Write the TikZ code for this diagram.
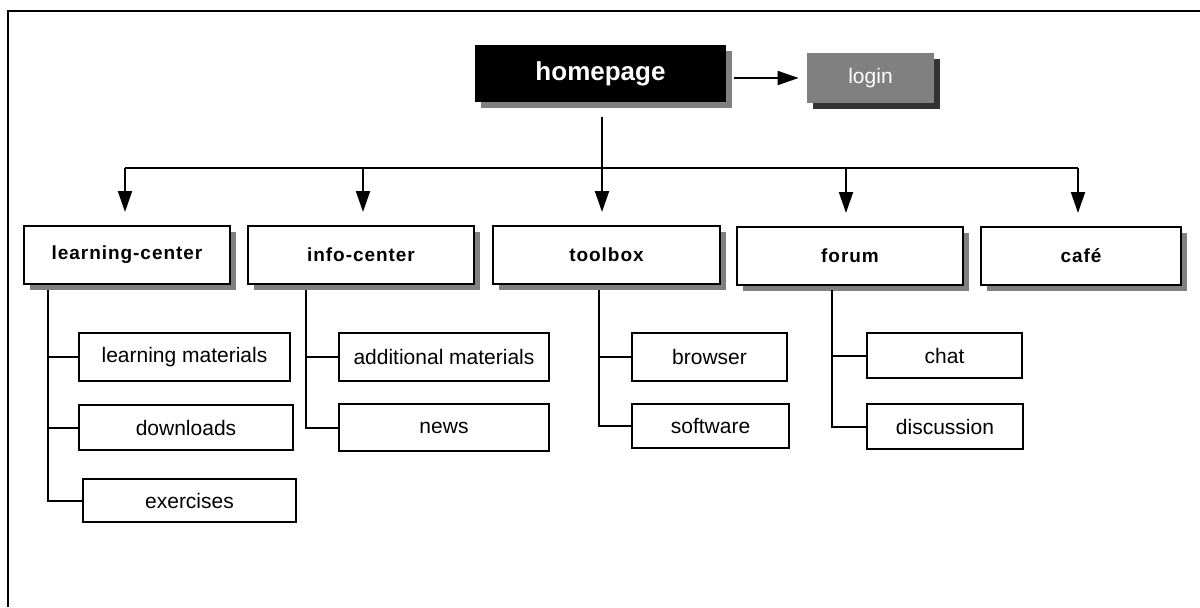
\documentclass[tikz,border=0pt]{standalone}
\usepackage{fontspec}
\setmainfont{Liberation Sans}
\usetikzlibrary{arrows.meta,shadows}
\definecolor{shadowgray}{RGB}{128,128,128}
\definecolor{darkshadow}{RGB}{51,51,51}
\begin{document}
\begin{tikzpicture}[x=0.5pt,y=-0.5pt,
  subbox/.style={draw,line width=1pt,fill=white,inner sep=0pt,font=\fontsize{10.5}{12}\selectfont},
  topbox/.style={draw,line width=1pt,fill=white,inner sep=0pt,minimum height=29pt,
     font=\fontsize{9.5}{11}\selectfont\bfseries\addfontfeature{LetterSpace=5},
     drop shadow={shadow xshift=3pt,shadow yshift=-3pt,fill=shadowgray,opacity=1}},
  arr/.style={line width=1pt,-{Triangle[length=10.5pt,width=7pt]}},
  conn/.style={line width=1pt}
]
\useasboundingbox (0,0) rectangle (1200,607);
% frame
\draw[line width=1pt] (8,607) -- (8,11) -- (1200,11);

% homepage and login
\node[fill=black,text=white,inner sep=0pt,minimum width=125.5pt,minimum height=28.5pt,
      font=\fontsize{13}{15}\selectfont\bfseries,
      drop shadow={shadow xshift=3pt,shadow yshift=-3pt,fill=shadowgray,opacity=1}]
      (hp) at (600.5,73.5) {homepage};
\node[fill=shadowgray,text=white,inner sep=0pt,minimum width=63.5pt,minimum height=25pt,
      font=\fontsize{10.5}{12}\selectfont,
      drop shadow={shadow xshift=3pt,shadow yshift=-3pt,fill=darkshadow,opacity=1}]
      (lg) at (870.5,78) {login};

% top level
\node[topbox,minimum width=103pt] (lc) at (127,255) {learning-center};
\node[topbox,minimum width=113pt] (ic) at (361,255) {info-center};
\node[topbox,minimum width=113.5pt] (tb) at (606.5,255) {toolbox};
\node[topbox,minimum width=113pt] (fo) at (850,256) {forum};
\node[topbox,minimum width=100pt] (ca) at (1081,256) {café};

% sub boxes
\node[subbox,minimum width=105.5pt,minimum height=24pt] (lm) at (184.5,357) {learning materials};
\node[subbox,minimum width=107pt,minimum height=22.5pt] (dl) at (186,427.5) {downloads};
\node[subbox,minimum width=106.5pt,minimum height=21.5pt] (ex) at (189.5,500.5) {exercises};
\node[subbox,minimum width=105pt,minimum height=24pt] (am) at (444,357) {additional materials};
\node[subbox,minimum width=105pt,minimum height=23.5pt] (nw) at (444,427.5) {news};
\node[subbox,minimum width=77.5pt,minimum height=24pt] (br) at (709.5,357) {browser};
\node[subbox,minimum width=78.5pt,minimum height=22pt] (sw) at (710.5,426) {software};
\node[subbox,minimum width=77.5pt,minimum height=22.5pt] (ch) at (944.5,355.5) {chat};
\node[subbox,minimum width=78pt,minimum height=22.5pt] (di) at (945,426.5) {discussion};

% connectors from homepage
\draw[arr,shorten <=4pt,shorten >=4pt] (lg.west -| hp.east) -- (lg.west);
\coordinate (b1) at (125,168);
\coordinate (b2) at (363,168);
\coordinate (b3) at (602,168);
\coordinate (b4) at (846,168);
\coordinate (b5) at (1078,168);
\draw[arr,shorten >=6.5pt] ([yshift=-7.5pt]hp.south -| b3) -- (b3 |- tb.north);
\draw[conn] (b1) -- (b5);
\draw[arr,shorten >=6.5pt] (b1) -- (b1 |- lc.north);
\draw[arr,shorten >=6.5pt] (b2) -- (b2 |- ic.north);
\draw[arr,shorten >=6.5pt] (b4) -- (b4 |- fo.north);
\draw[arr,shorten >=6.5pt] (b5) -- (b5 |- ca.north);

% trees
\coordinate (t1) at (48,290);
\coordinate (t2) at (306,290);
\coordinate (t3) at (599,290);
\coordinate (t4) at (832,290);
\draw[conn] (t1) |- (ex.west);
\draw[conn] (t1 |- lm.west) -- (lm.west);
\draw[conn] (t1 |- dl.west) -- (dl.west);
\draw[conn] (t2) |- (nw.west);
\draw[conn] (t2 |- am.west) -- (am.west);
\draw[conn] (t3) |- (sw.west);
\draw[conn] (t3 |- br.west) -- (br.west);
\draw[conn] (t4) |- (di.west);
\draw[conn] (t4 |- ch.west) -- (ch.west);
\end{tikzpicture}
\end{document}
